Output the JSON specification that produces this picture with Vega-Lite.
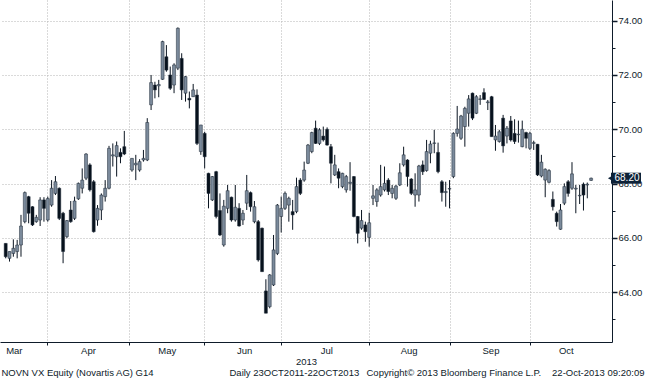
{
"$schema": "https://vega.github.io/schema/vega-lite/v6.json",
"width": 612, "height": 342,
"autosize": {"type": "none"},
"padding": {"left": 0, "top": 0, "right": 33, "bottom": 38},
"background": "white",
"config": {"view": {"stroke": null}, "font": "Liberation Sans"},
"data": {"values": [
{"i":0,"o":65.80,"h":65.80,"l":65.25,"c":65.31},
{"i":1,"o":65.25,"h":65.50,"l":65.13,"c":65.50},
{"i":2,"o":65.43,"h":65.95,"l":65.31,"c":65.62},
{"i":3,"o":65.50,"h":65.93,"l":65.25,"c":65.74},
{"i":4,"o":65.74,"h":66.85,"l":65.31,"c":66.44},
{"i":5,"o":66.60,"h":67.71,"l":66.54,"c":67.67},
{"i":6,"o":67.52,"h":67.55,"l":66.54,"c":66.91},
{"i":7,"o":67.15,"h":67.17,"l":66.44,"c":66.48},
{"i":8,"o":66.60,"h":66.85,"l":66.56,"c":66.76},
{"i":9,"o":66.66,"h":67.50,"l":66.44,"c":67.40},
{"i":10,"o":67.40,"h":67.50,"l":66.60,"c":67.09},
{"i":11,"o":66.66,"h":67.52,"l":66.60,"c":67.45},
{"i":12,"o":67.21,"h":68.13,"l":67.15,"c":67.83},
{"i":13,"o":67.64,"h":68.28,"l":67.58,"c":68.07},
{"i":14,"o":67.83,"h":67.86,"l":66.66,"c":66.72},
{"i":15,"o":66.91,"h":66.96,"l":65.07,"c":65.50},
{"i":16,"o":66.05,"h":66.66,"l":65.99,"c":66.64},
{"i":17,"o":67.03,"h":67.36,"l":66.56,"c":66.60},
{"i":18,"o":66.72,"h":67.52,"l":66.66,"c":67.36},
{"i":19,"o":67.44,"h":68.04,"l":67.40,"c":68.01},
{"i":20,"o":67.83,"h":68.56,"l":67.64,"c":68.13},
{"i":21,"o":68.20,"h":69.12,"l":68.13,"c":69.09},
{"i":22,"o":68.69,"h":68.75,"l":67.71,"c":67.77},
{"i":23,"o":68.07,"h":68.13,"l":66.20,"c":66.23},
{"i":24,"o":66.66,"h":67.21,"l":66.45,"c":67.09},
{"i":25,"o":67.03,"h":67.64,"l":66.66,"c":67.58},
{"i":26,"o":67.52,"h":68.13,"l":67.34,"c":67.83},
{"i":27,"o":67.83,"h":69.39,"l":67.79,"c":69.30},
{"i":28,"o":69.02,"h":69.48,"l":68.63,"c":69.06},
{"i":29,"o":68.99,"h":69.55,"l":68.26,"c":69.40},
{"i":30,"o":69.15,"h":69.30,"l":68.75,"c":68.99},
{"i":31,"o":69.36,"h":69.94,"l":69.05,"c":69.09},
{"i":33,"o":68.50,"h":68.93,"l":68.44,"c":68.93},
{"i":34,"o":68.69,"h":69.06,"l":68.13,"c":68.75},
{"i":35,"o":68.50,"h":68.90,"l":68.44,"c":68.81},
{"i":36,"o":68.87,"h":69.24,"l":68.81,"c":68.93},
{"i":37,"o":68.87,"h":70.41,"l":68.83,"c":70.25},
{"i":38,"o":70.90,"h":72.00,"l":70.71,"c":71.72},
{"i":39,"o":71.63,"h":71.75,"l":71.14,"c":71.45},
{"i":40,"o":71.60,"h":71.82,"l":71.18,"c":71.65},
{"i":41,"o":71.84,"h":73.26,"l":71.82,"c":73.23},
{"i":42,"o":72.67,"h":73.10,"l":72.12,"c":72.18},
{"i":43,"o":72.00,"h":72.31,"l":71.45,"c":71.51},
{"i":44,"o":71.63,"h":72.43,"l":71.33,"c":72.37},
{"i":45,"o":72.25,"h":73.75,"l":72.18,"c":73.72},
{"i":46,"o":72.61,"h":72.80,"l":71.08,"c":71.45},
{"i":47,"o":71.33,"h":71.96,"l":71.02,"c":71.94},
{"i":48,"o":71.14,"h":71.39,"l":70.77,"c":71.08},
{"i":49,"o":71.20,"h":71.67,"l":71.20,"c":71.45},
{"i":50,"o":71.26,"h":71.47,"l":69.42,"c":69.48},
{"i":51,"o":69.18,"h":70.16,"l":69.06,"c":70.16},
{"i":52,"o":69.85,"h":69.91,"l":68.56,"c":68.99},
{"i":53,"o":68.38,"h":68.40,"l":67.09,"c":67.64},
{"i":54,"o":67.40,"h":68.28,"l":67.36,"c":68.26},
{"i":55,"o":68.44,"h":68.47,"l":66.72,"c":66.79},
{"i":56,"o":67.01,"h":67.64,"l":66.07,"c":66.11},
{"i":57,"o":65.74,"h":67.40,"l":65.68,"c":67.17},
{"i":58,"o":67.09,"h":67.95,"l":66.91,"c":67.74},
{"i":59,"o":67.50,"h":67.52,"l":66.60,"c":66.66},
{"i":60,"o":66.66,"h":67.95,"l":66.60,"c":67.13},
{"i":61,"o":67.09,"h":67.28,"l":66.42,"c":66.44},
{"i":62,"o":66.66,"h":67.03,"l":66.48,"c":66.91},
{"i":63,"o":67.28,"h":68.32,"l":67.03,"c":67.74},
{"i":64,"o":67.67,"h":67.71,"l":66.97,"c":67.15},
{"i":65,"o":66.60,"h":67.36,"l":66.54,"c":67.15},
{"i":66,"o":66.60,"h":66.66,"l":65.13,"c":65.19},
{"i":67,"o":66.36,"h":66.38,"l":64.76,"c":64.76},
{"i":68,"o":64.05,"h":64.48,"l":63.23,"c":63.23},
{"i":69,"o":63.47,"h":64.67,"l":63.41,"c":64.64},
{"i":70,"o":64.27,"h":66.11,"l":64.23,"c":65.56},
{"i":71,"o":65.43,"h":67.25,"l":65.37,"c":67.21},
{"i":72,"o":66.79,"h":67.52,"l":66.20,"c":67.09},
{"i":73,"o":67.09,"h":67.71,"l":67.03,"c":67.64},
{"i":74,"o":67.21,"h":67.52,"l":66.60,"c":67.46},
{"i":75,"o":66.97,"h":67.40,"l":66.30,"c":66.85},
{"i":76,"o":66.97,"h":68.22,"l":66.91,"c":67.89},
{"i":77,"o":68.13,"h":68.20,"l":67.58,"c":67.64},
{"i":78,"o":68.13,"h":68.81,"l":68.07,"c":68.50},
{"i":79,"o":68.75,"h":69.46,"l":68.72,"c":69.42},
{"i":80,"o":69.18,"h":69.91,"l":69.12,"c":69.88},
{"i":81,"o":70.04,"h":70.32,"l":69.46,"c":69.48},
{"i":82,"o":69.48,"h":70.04,"l":69.42,"c":69.98},
{"i":83,"o":69.75,"h":70.10,"l":69.55,"c":69.61},
{"i":84,"o":70.00,"h":70.07,"l":69.40,"c":69.42},
{"i":85,"o":69.36,"h":69.46,"l":68.01,"c":68.75},
{"i":86,"o":68.32,"h":69.06,"l":68.28,"c":68.69},
{"i":87,"o":68.44,"h":68.56,"l":67.83,"c":68.20},
{"i":88,"o":67.89,"h":68.40,"l":67.83,"c":68.38},
{"i":89,"o":67.77,"h":68.32,"l":67.67,"c":68.26},
{"i":90,"o":68.01,"h":68.79,"l":67.74,"c":68.05},
{"i":91,"o":68.26,"h":68.28,"l":66.76,"c":66.79},
{"i":92,"o":66.79,"h":66.81,"l":65.80,"c":66.17},
{"i":93,"o":66.36,"h":67.03,"l":66.30,"c":66.64},
{"i":94,"o":66.48,"h":66.60,"l":65.86,"c":66.23},
{"i":95,"o":66.02,"h":66.93,"l":65.68,"c":66.56},
{"i":96,"o":67.46,"h":67.95,"l":67.21,"c":67.55},
{"i":97,"o":67.34,"h":67.83,"l":67.15,"c":67.77},
{"i":98,"o":67.58,"h":68.69,"l":67.52,"c":67.89},
{"i":99,"o":67.77,"h":68.63,"l":67.71,"c":68.01},
{"i":100,"o":68.13,"h":68.20,"l":67.58,"c":67.71},
{"i":101,"o":67.64,"h":67.95,"l":67.46,"c":67.83},
{"i":102,"o":67.46,"h":67.95,"l":67.40,"c":67.91},
{"i":103,"o":67.95,"h":68.75,"l":67.91,"c":68.40},
{"i":104,"o":68.69,"h":69.36,"l":68.63,"c":69.06},
{"i":105,"o":68.87,"h":68.90,"l":67.89,"c":68.26},
{"i":106,"o":68.17,"h":68.20,"l":67.58,"c":67.64},
{"i":107,"o":67.58,"h":68.38,"l":67.15,"c":67.77},
{"i":108,"o":67.58,"h":68.69,"l":67.34,"c":68.65},
{"i":109,"o":68.69,"h":68.85,"l":68.32,"c":68.44},
{"i":110,"o":68.48,"h":69.61,"l":68.44,"c":69.18},
{"i":111,"o":69.12,"h":69.58,"l":68.75,"c":69.46},
{"i":112,"o":69.48,"h":69.98,"l":69.12,"c":69.50},
{"i":113,"o":69.15,"h":69.51,"l":68.38,"c":68.44},
{"i":114,"o":68.07,"h":68.13,"l":67.34,"c":67.67},
{"i":115,"o":67.67,"h":68.07,"l":67.15,"c":67.71},
{"i":116,"o":67.80,"h":68.13,"l":67.09,"c":67.82},
{"i":117,"o":68.26,"h":69.89,"l":68.20,"c":69.85},
{"i":118,"o":69.85,"h":70.86,"l":69.73,"c":70.01},
{"i":119,"o":69.67,"h":70.53,"l":69.61,"c":70.49},
{"i":120,"o":70.10,"h":70.83,"l":69.36,"c":70.77},
{"i":121,"o":70.59,"h":71.26,"l":70.10,"c":71.12},
{"i":122,"o":71.33,"h":71.35,"l":70.34,"c":70.41},
{"i":123,"o":70.59,"h":71.26,"l":70.56,"c":71.20},
{"i":124,"o":71.10,"h":71.26,"l":70.90,"c":71.12},
{"i":125,"o":71.35,"h":71.51,"l":71.08,"c":71.10},
{"i":126,"o":70.98,"h":71.08,"l":70.71,"c":71.01},
{"i":127,"o":71.20,"h":71.23,"l":69.73,"c":69.73},
{"i":128,"o":69.61,"h":70.16,"l":69.21,"c":69.75},
{"i":129,"o":69.55,"h":69.98,"l":69.51,"c":69.91},
{"i":130,"o":70.41,"h":70.53,"l":69.14,"c":69.39},
{"i":131,"o":69.75,"h":70.12,"l":69.48,"c":70.04},
{"i":132,"o":70.31,"h":70.49,"l":69.55,"c":69.61},
{"i":133,"o":69.85,"h":70.37,"l":69.46,"c":69.55},
{"i":134,"o":69.80,"h":70.32,"l":69.51,"c":69.82},
{"i":135,"o":69.36,"h":70.32,"l":69.34,"c":70.00},
{"i":136,"o":69.88,"h":69.91,"l":69.30,"c":69.67},
{"i":137,"o":69.30,"h":69.91,"l":69.24,"c":69.85},
{"i":138,"o":69.48,"h":69.58,"l":69.24,"c":69.51},
{"i":139,"o":69.45,"h":69.46,"l":68.28,"c":68.32},
{"i":140,"o":68.28,"h":69.06,"l":68.23,"c":68.79},
{"i":141,"o":68.13,"h":68.56,"l":67.50,"c":68.53},
{"i":142,"o":68.05,"h":68.53,"l":68.01,"c":68.48},
{"i":143,"o":67.42,"h":67.71,"l":67.01,"c":67.15},
{"i":144,"o":66.91,"h":66.97,"l":66.42,"c":66.60},
{"i":145,"o":66.32,"h":67.25,"l":66.30,"c":67.03},
{"i":146,"o":67.28,"h":68.01,"l":67.21,"c":67.89},
{"i":147,"o":68.07,"h":68.13,"l":67.52,"c":67.64},
{"i":148,"o":67.83,"h":68.79,"l":67.77,"c":68.36},
{"i":149,"o":67.80,"h":67.95,"l":66.91,"c":67.83},
{"i":150,"o":67.55,"h":67.95,"l":67.25,"c":67.57},
{"i":151,"o":67.98,"h":68.04,"l":67.01,"c":67.58},
{"i":152,"o":67.95,"h":68.04,"l":67.46,"c":67.98},
{"i":153,"o":68.12,"h":68.22,"l":68.10,"c":68.20}
]},
"layer": [
{
"mark": {"type": "rule", "color": "#0a1420", "strokeWidth": 1},
"encoding": {
"x": {"field": "i", "type": "quantitative",
"scale": {"domain": [-0.18, 157.15], "nice": false, "zero": false},
"axis": {"orient": "bottom", "values": [10.87, 32.2, 51.8, 71.9, 94.9, 116.2, 137.1], "labels": false, "title": null,
"grid": true, "gridDash": [1, 2], "gridColor": "#b4b4b4", "ticks": true, "tickSize": 3, "tickColor": "#0e1b2a", "domainColor": "#0e1b2a"}},
"y": {"field": "l", "type": "quantitative",
"scale": {"domain": [62.17, 74.76], "nice": false, "zero": false},
"axis": {"orient": "right", "values": [63, 64, 65, 66, 67, 68, 69, 70, 71, 72, 73, 74], "title": null,
"grid": true, "gridDash": [1, 2], "gridColor": "#b4b4b4",
"gridOpacity": {"condition": {"test": "datum.value % 2 == 1", "value": 0}, "value": 1},
"labelExpr": "datum.value % 2 == 0 ? format(datum.value, '.2f') : ''",
"tickSize": {"condition": {"test": "datum.value % 2 == 1", "value": 3}, "value": 5},
"tickWidth": {"condition": {"test": "datum.value % 2 == 1", "value": 1}, "value": 1.5},
"tickColor": "#0e1b2a", "domainColor": "#0e1b2a", "labelColor": "#0e1b2a",
"labelFontSize": 9.5, "labelPadding": 1, "labelBaseline": "middle"}},
"y2": {"field": "h"}
}
},
{
"mark": {"type": "bar", "size": 3, "stroke": "#1c2836", "strokeWidth": 0.5},
"encoding": {
"x": {"field": "i", "type": "quantitative",
"axis": {"orient": "bottom", "values": [2.13, 21.5, 42.1, 62.3, 83.8, 105.3, 126.7, 146.4],
"labelExpr": "datum.value < 10 ? 'Mar' : datum.value < 30 ? 'Apr' : datum.value < 50 ? 'May' : datum.value < 70 ? 'Jun' : datum.value < 90 ? 'Jul' : datum.value < 110 ? 'Aug' : datum.value < 130 ? 'Sep' : 'Oct'",
"ticks": false, "domain": false, "grid": false, "labelPadding": 3, "labelFontSize": 9.5, "labelColor": "#0e1b2a",
"labelFlush": false, "labelOverlap": false, "title": "2013", "titleFontSize": 9.5, "titleFontWeight": "normal",
"titleColor": "#0e1b2a", "titlePadding": 2}},
"y": {"field": "o", "type": "quantitative",
"axis": {"orient": "left", "labels": false, "ticks": false, "domain": false, "grid": false,
"title": "22-Oct-2013 09:20:09", "titleAngle": 0, "titleX": 644, "titleY": 372, "titleAlign": "right",
"titleBaseline": "middle", "titleFontWeight": "normal", "titleFontSize": 9.5, "titleColor": "#0e1b2a"}},
"y2": {"field": "c"},
"color": {"condition": {"test": "datum.c >= datum.o", "value": "#7b8a9b"}, "value": "#07111c"}
}
},
{
"transform": [{"filter": "datum.i == 153"}],
"mark": {"type": "rect", "color": "#0d2238", "xOffset": 4, "x2Offset": 34, "yOffset": -5.5, "y2Offset": 5.5},
"encoding": {
"x": {"datum": 157.15, "type": "quantitative",
"axis": {"orient": "bottom", "labels": false, "ticks": false, "domain": false, "grid": false,
"title": "NOVN VX Equity (Novartis AG) G14", "titleX": 1, "titleY": 30, "titleAlign": "left",
"titleBaseline": "middle", "titleFontWeight": "normal", "titleFontSize": 9.5, "titleColor": "#0e1b2a"}},
"x2": {"datum": 157.15},
"y": {"field": "c", "type": "quantitative", "axis": null},
"y2": {"field": "c"}
}
},
{
"transform": [{"filter": "datum.i == 153"}],
"mark": {"type": "point", "shape": "triangle-left", "filled": true, "opacity": 1, "color": "#0d2238", "size": 50, "xOffset": 4},
"encoding": {
"x": {"datum": 157.15, "type": "quantitative",
"axis": {"orient": "bottom", "labels": false, "ticks": false, "domain": false, "grid": false,
"title": "Daily 23OCT2011-22OCT2013", "titleX": 229, "titleY": 30, "titleAlign": "left",
"titleBaseline": "middle", "titleFontWeight": "normal", "titleFontSize": 9.5, "titleColor": "#0e1b2a"}},
"y": {"field": "c", "type": "quantitative", "axis": null}
}
},
{
"transform": [{"filter": "datum.i == 153"}],
"mark": {"type": "text", "color": "white", "fontSize": 10, "align": "center", "baseline": "middle", "dx": 20},
"encoding": {
"x": {"datum": 157.15, "type": "quantitative",
"axis": {"orient": "bottom", "labels": false, "ticks": false, "domain": false, "grid": false,
"title": "Copyright© 2013 Bloomberg Finance L.P.", "titleX": 366, "titleY": 30, "titleAlign": "left",
"titleBaseline": "middle", "titleFontWeight": "normal", "titleFontSize": 9.5, "titleColor": "#0e1b2a"}},
"y": {"field": "c", "type": "quantitative", "axis": null},
"text": {"field": "c", "type": "quantitative", "format": ".2f"}
}
}
],
"resolve": {"scale": {"x": "shared", "y": "shared"}, "axis": {"x": "independent", "y": "independent"}}
}
